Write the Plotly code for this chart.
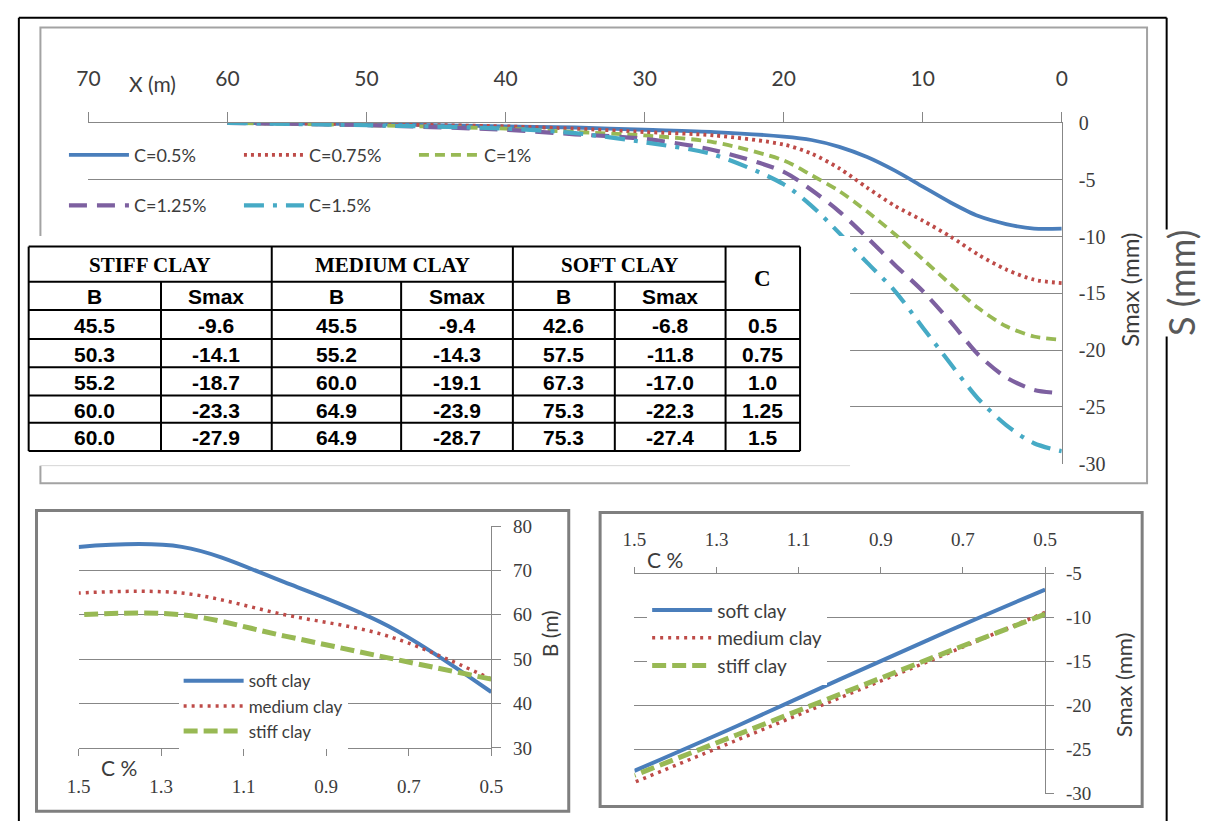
import plotly.graph_objects as go

W, H = 1211, 832


def px(x):
    return x / W


def py(y):
    return 1 - y / H


# ---------------- data ----------------
# Top chart: settlement trough S (mm) versus distance X (m)
x_dist = [60, 50, 40, 35, 30, 25, 20, 18, 16, 14, 12, 10, 8, 6, 4, 2, 0]
s_c050 = [0, -0.1, -0.3, -0.4, -0.6, -0.8, -1.2, -1.5, -2.1, -3.0, -4.2, -5.6, -7.0, -8.2, -8.9, -9.3, -9.3]
s_c075 = [0, -0.1, -0.3, -0.5, -0.8, -1.1, -1.9, -2.7, -4.0, -5.7, -7.3, -8.6, -10.0, -11.6, -12.9, -13.8, -14.1]
s_c100 = [0, -0.2, -0.5, -0.8, -1.1, -1.7, -3.3, -4.6, -6.0, -7.8, -9.8, -12.0, -14.2, -16.3, -17.9, -18.8, -19.1]
s_c125 = [0, -0.2, -0.6, -1.0, -1.4, -2.4, -4.3, -5.9, -7.8, -10.1, -12.5, -14.8, -17.5, -20.4, -22.4, -23.5, -23.8]
s_c150 = [0, -0.2, -0.5, -0.9, -1.7, -2.8, -5.4, -7.3, -9.7, -12.3, -14.8, -18.0, -21.2, -24.3, -26.6, -28.2, -28.9]
top_names = ["C=0.5%", "C=0.75%", "C=1%", "C=1.25%", "C=1.5%"]

# Table / bottom charts
c_pct = [0.5, 0.75, 1.0, 1.25, 1.5]
stiff_B = [45.5, 50.3, 55.2, 60.0, 60.0]
stiff_S = [-9.6, -14.1, -18.7, -23.3, -27.9]
medium_B = [45.5, 55.2, 60.0, 64.9, 64.9]
medium_S = [-9.4, -14.3, -19.1, -23.9, -28.7]
soft_B = [42.6, 57.5, 67.3, 75.3, 75.3]
soft_S = [-6.8, -11.8, -17.0, -22.3, -27.4]
clay_names = ["soft clay", "medium clay", "stiff clay"]
table_groups = ["STIFF CLAY", "MEDIUM CLAY", "SOFT CLAY"]
table_sub = ["B", "Smax"]

x_ticks_top = [70, 60, 50, 40, 30, 20, 10, 0]
y_ticks_top = [0, -5, -10, -15, -20, -25, -30]
c_ticks = [1.5, 1.3, 1.1, 0.9, 0.7, 0.5]
b_ticks = [30, 40, 50, 60, 70, 80]
s_ticks = [-5, -10, -15, -20, -25, -30]

# ---------------- styles ----------------
BLUE, RED, GREEN, PURPLE, CYAN = "#4A7EBB", "#BE4B48", "#98B954", "#7D60A0", "#46AAC5"
GRAY = "#878787"
TXT = "#3c3c3c"
SANS = "Lato"
SERIF = "Liberation Serif"

fig = go.Figure()
top_styles = [
    dict(color=BLUE, dash="solid", width=3.8, legend="legend"),
    dict(color=RED, dash="3px,4px", width=3.8, legend="legend"),
    dict(color=GREEN, dash="10px,6px", width=3.8, legend="legend"),
    dict(color=PURPLE, dash="18px,10px", width=4.2, legend="legend2"),
    dict(color=CYAN, dash="20px,9px,4px,9px", width=4.2, legend="legend2"),
]
for name, vals, st in zip(top_names, [s_c050, s_c075, s_c100, s_c125, s_c150], top_styles):
    fig.add_trace(go.Scatter(x=x_dist, y=vals, name=name, mode="lines", xaxis="x", yaxis="y",
                             legend=st["legend"],
                             line=dict(color=st["color"], dash=st["dash"], width=st["width"],
                                       shape="spline", smoothing=0.8)))

clay_styles = [dict(color=BLUE, dash="solid", width=4),
               dict(color=RED, dash="3px,5px", width=3.5),
               dict(color=GREEN, dash="14px,6px", width=5)]
for name, vals, st in zip(clay_names, [soft_B, medium_B, stiff_B], clay_styles):
    fig.add_trace(go.Scatter(x=c_pct, y=vals, name=name, mode="lines", xaxis="x2", yaxis="y2",
                             legend="legend3", line=dict(color=st["color"], dash=st["dash"],
                                                         width=st["width"], shape="spline")))
for name, vals, st in zip(clay_names, [soft_S, medium_S, stiff_S], clay_styles):
    fig.add_trace(go.Scatter(x=c_pct, y=vals, name=name, mode="lines", xaxis="x3", yaxis="y3",
                             legend="legend4", line=dict(color=st["color"], dash=st["dash"],
                                                         width=st["width"], shape="spline")))

leg_common = dict(bgcolor="rgba(0,0,0,0)", borderwidth=0, itemwidth=60,
                  font=dict(family=SANS, size=18, color=TXT), tracegroupgap=0)


def labels(vals, fmt="{:g}"):
    return [fmt.format(v) for v in vals]


fig.update_layout(
    width=W, height=H, margin=dict(l=0, r=0, t=0, b=0),
    paper_bgcolor="white", plot_bgcolor="rgba(0,0,0,0)",
    legend=dict(**leg_common, orientation="h", entrywidth=100, entrywidthmode="pixels",
                x=px(53), y=py(148), xanchor="left", yanchor="middle"),
    legend2=dict(**leg_common, orientation="h", entrywidth=100, entrywidthmode="pixels",
                 x=px(53), y=py(200), xanchor="left", yanchor="middle"),
    legend3=dict(bgcolor="white", borderwidth=0, itemwidth=60, tracegroupgap=0,
                 font=dict(family=SANS, size=17, color=TXT),
                 x=px(170), y=py(670), xanchor="left", yanchor="top"),
    legend4=dict(bgcolor="white", borderwidth=0, itemwidth=60, tracegroupgap=0,
                 font=dict(family=SANS, size=19, color=TXT),
                 x=px(648), y=py(596), xanchor="left", yanchor="top"),
    xaxis=dict(domain=[px(78), px(1071)], range=[70, 0], side="top", anchor="y",
               showline=True, linecolor=GRAY, ticks="outside", ticklen=10, tickcolor=GRAY,
               tickvals=x_ticks_top, ticktext=labels(x_ticks_top), showgrid=False, zeroline=False,
               tickfont=dict(family=SANS, size=21, color=TXT), ticklabelstandoff=18),
    yaxis=dict(domain=[py(465), py(115)], range=[-30, 0], side="right", anchor="x",
               showline=True, linecolor=GRAY, showgrid=True, gridcolor=GRAY,
               tickvals=y_ticks_top, ticktext=labels(y_ticks_top), ticks="", zeroline=False,
               tickfont=dict(family=SERIF, size=20, color=TXT), ticklabelstandoff=12),
    xaxis2=dict(domain=[px(68), px(489)], range=[1.5, 0.5], side="bottom", anchor="y2",
                showline=True, linecolor=GRAY, ticks="outside", ticklen=7, tickcolor=GRAY,
                tickvals=c_ticks, ticktext=labels(c_ticks, "{:.1f}"), showgrid=False,
                zeroline=False, tickfont=dict(family=SERIF, size=19, color=TXT), ticklabelstandoff=14),
    yaxis2=dict(domain=[py(757), py(529)], range=[30, 80], side="right", anchor="x2",
                showline=True, linecolor=GRAY, showgrid=True, gridcolor=GRAY,
                tickvals=b_ticks, ticktext=labels(b_ticks), ticks="outside", ticklen=9,
                tickcolor=GRAY, zeroline=False, tickfont=dict(family=SERIF, size=19, color=TXT),
                ticklabelstandoff=8),
    xaxis3=dict(domain=[px(635), px(1054)], range=[1.5, 0.5], side="top", anchor="y3",
                showline=True, linecolor=GRAY, ticks="outside", ticklen=6, tickcolor=GRAY,
                tickvals=c_ticks, ticktext=labels(c_ticks, "{:.1f}"), showgrid=False,
                zeroline=False, tickfont=dict(family=SERIF, size=19, color=TXT), ticklabelstandoff=13),
    yaxis3=dict(domain=[py(804), py(578)], range=[-30, -5], side="right", anchor="x3",
                showline=True, linecolor=GRAY, showgrid=True, gridcolor=GRAY,
                tickvals=s_ticks, ticktext=labels(s_ticks), ticks="outside", ticklen=8,
                tickcolor=GRAY, zeroline=False, tickfont=dict(family=SERIF, size=19, color=TXT),
                ticklabelstandoff=8),
)

shapes = []
ann = []


def line(x0, y0, x1, y1, color="black", width=2):
    shapes.append(dict(type="line", xref="paper", yref="paper", x0=px(x0), y0=py(y0),
                       x1=px(x1), y1=py(y1), line=dict(color=color, width=width)))


def rect(x0, y0, x1, y1, color=None, width=0, fill=None):
    shapes.append(dict(type="rect", xref="paper", yref="paper", x0=px(x0), y0=py(y0),
                       x1=px(x1), y1=py(y1), fillcolor=fill or "rgba(0,0,0,0)",
                       line=dict(color=color or "rgba(0,0,0,0)", width=width)))


def text(x, y, s, size, family=SANS, color=TXT, angle=0, bold=False, bg=None):
    ann.append(dict(xref="paper", yref="paper", x=px(x), y=py(y), text=s, showarrow=False,
                    xanchor="center", yanchor="middle", textangle=angle,
                    bgcolor=bg or "rgba(0,0,0,0)", borderpad=0,
                    font=dict(family=family, size=size, color=color,
                              weight="bold" if bold else "normal")))


# outer page border and chart frames
line(7, 7, 1178, 7)
line(7, 7, 7, 832)
line(1178, 7, 1178, 832)
rect(29, 17, 1158, 485, color="#a3a3a3", width=2)
rect(25, 513, 568, 822, color="#7f7f7f", width=3)
rect(600, 515, 1153, 817, color="#7f7f7f", width=3)
# white pasted table area
rect(10, 231, 855, 467, fill="white")
line(29, 467, 855, 467, color="#d6d6d6", width=1)

# table grid
col_edges = [17, 152, 265, 397, 511, 615, 728, 804]
row_edges = [242, 278, 307, 337, 366, 395, 423, 452]
for y in [row_edges[0], row_edges[2]] + row_edges[3:]:
    line(col_edges[0], y, col_edges[-1], y)
line(col_edges[0], row_edges[1], col_edges[-2], row_edges[1])
for i, x in enumerate(col_edges):
    top = row_edges[0] if i % 2 == 0 or i == len(col_edges) - 1 else row_edges[1]
    line(x, top, x, row_edges[-1])
for g, name in enumerate(table_groups):
    text((col_edges[2 * g] + col_edges[2 * g + 2]) / 2, (row_edges[0] + row_edges[1]) / 2 + 1,
         name, 21, family=SERIF, color="black", bold=True)
    for k, sub in enumerate(table_sub):
        text((col_edges[2 * g + k] + col_edges[2 * g + k + 1]) / 2, (row_edges[1] + row_edges[2]) / 2 + 1,
             sub, 21, family="Liberation Sans", color="black", bold=True)
text((col_edges[-2] + col_edges[-1]) / 2, (row_edges[0] + row_edges[2]) / 2, "C", 23,
     family=SERIF, color="black", bold=True)


def fmt_c(v):
    s = f"{v:.2f}"
    return s[:-1] if s.endswith("0") else s


table_cols = [stiff_B, stiff_S, medium_B, medium_S, soft_B, soft_S]
for r, c in enumerate(c_pct):
    yc = (row_edges[r + 2] + row_edges[r + 3]) / 2 + 1
    for j, col in enumerate(table_cols):
        text((col_edges[j] + col_edges[j + 1]) / 2, yc, f"{col[r]:.1f}", 21,
             family="Liberation Sans", color="black", bold=True)
    text((col_edges[-2] + col_edges[-1]) / 2, yc, fmt_c(c), 21, family="Liberation Sans",
         color="black", bold=True)

# axis titles
text(143, 74, "X (m)", 21)
text(1140, 286, "Smax (mm)", 24, angle=-90)
text(1192, 279, "S (mm)", 36, color="#595959", angle=-90, bg="white")
text(109, 777, "C %", 21)
text(548, 640, "B (m)", 21, angle=-90)
text(666, 563, "C %", 21)
text(1134, 692, "Smax (mm)", 22, angle=-90)

fig.update_layout(shapes=shapes, annotations=ann)
fig.write_html("out.html")
